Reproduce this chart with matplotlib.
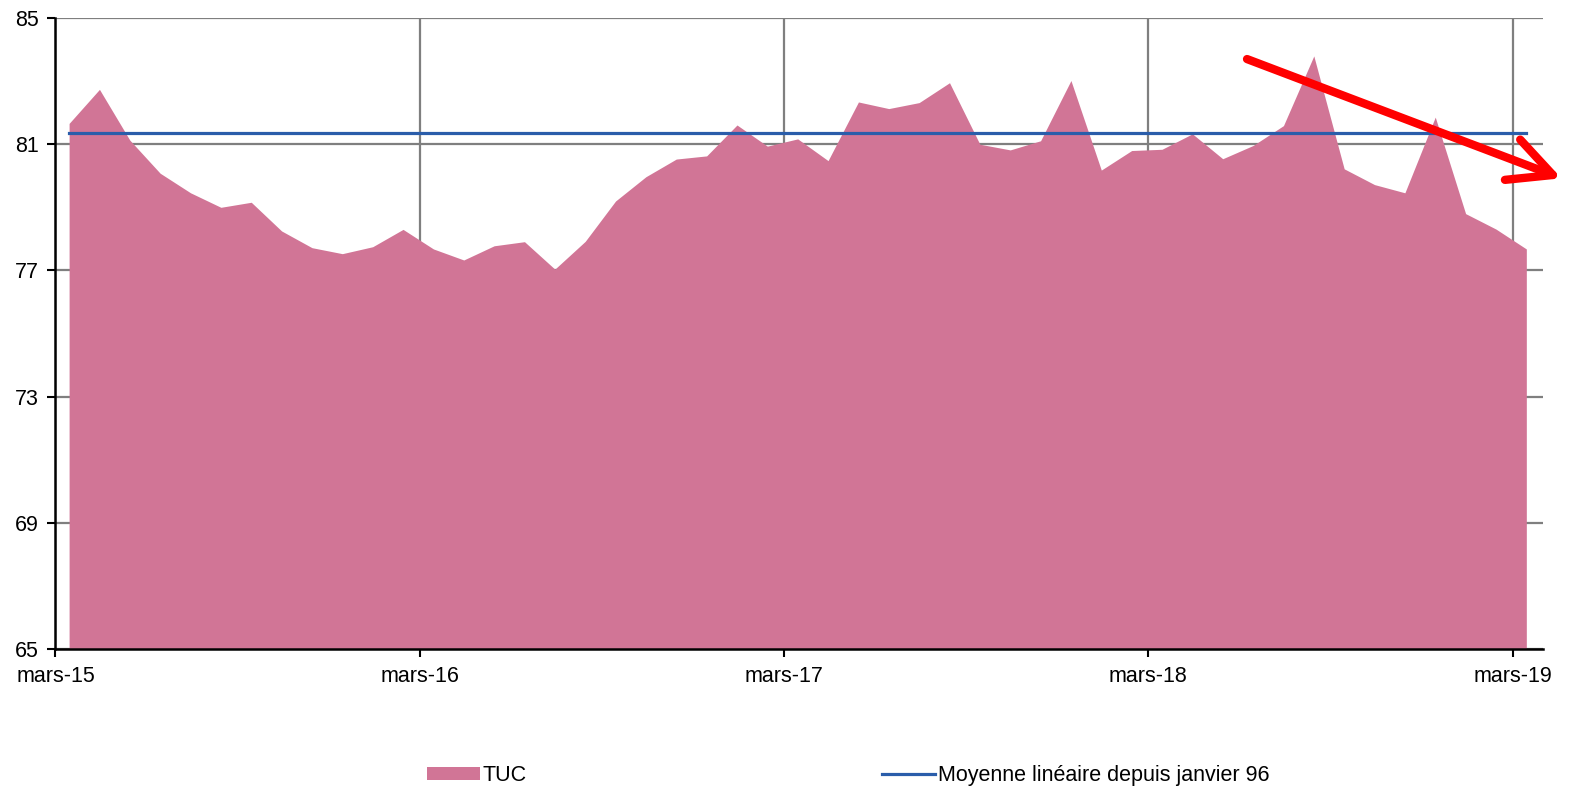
import matplotlib.pyplot as plt
from matplotlib.patches import FancyArrowPatch
import numpy as np

plt.rcParams['font.family'] = ['Liberation Sans', 'DejaVu Sans']

# TUC monthly values, from mars-15 to mars-19
tuc = [81.66, 82.74, 81.13, 80.08, 79.46, 79.00, 79.16, 78.25, 77.72, 77.53,
       77.75, 78.30, 77.68, 77.33, 77.78, 77.91, 77.04, 77.92, 79.20, 79.97,
       80.53, 80.63, 81.61, 80.94, 81.17, 80.48, 82.34, 82.13, 82.32, 82.95,
       81.00, 80.82, 81.11, 83.02, 80.18, 80.80, 80.84, 81.33, 80.54, 80.96,
       81.59, 83.80, 80.22, 79.72, 79.46, 81.86, 78.80, 78.31, 77.68]
moyenne = 81.35
tick_labels = ["mars-15", "mars-16", "mars-17", "mars-18", "mars-19"]
y_ticks = [65, 69, 73, 77, 81, 85]

x = np.arange(len(tuc)) + 0.45

fig = plt.figure(figsize=(15.75, 7.89), dpi=100)
ax = fig.add_axes([0.0352, 0.1776, 0.9445, 0.7995])

pink = "#D17596"
blue = "#2A5DAA"

ax.fill_between(x, 65, tuc, color=pink, linewidth=0, label="TUC", zorder=2)
ax.plot([x[0], x[-1]], [moyenne, moyenne], color=blue, linewidth=2.3,
        label="Moyenne linéaire depuis janvier 96", zorder=3)

ax.set_xlim(0, 49.0)
ax.set_ylim(65, 85)
ax.set_xticks([0, 12, 24, 36, 48])
ax.set_xticklabels(tick_labels)
ax.set_yticks(y_ticks)

ax.grid(True, color="#7F7F7F", linewidth=1.6, zorder=1)
ax.set_axisbelow(True)
for s in ["top", "right"]:
    ax.spines[s].set_visible(False)
for s in ["left", "bottom"]:
    ax.spines[s].set_linewidth(1.8)
    ax.spines[s].set_zorder(4)
ax.tick_params(axis="both", labelsize=15.5, width=1.5, length=6, direction="out")
ax.tick_params(axis="x", pad=6)
ax.tick_params(axis="y", pad=6)

# red trend arrow
arrow = FancyArrowPatch((39.25, 83.70), (49.61, 79.92),
                        arrowstyle="->,head_length=1.0,head_width=0.5",
                        mutation_scale=31, color="#FF0000", linewidth=6,
                        capstyle="round", joinstyle="round",
                        shrinkA=0, shrinkB=0,
                        clip_on=False, zorder=5)
ax.add_patch(arrow)

fig.legend(loc="center left", bbox_to_anchor=(427 / 1575, 0.0165), ncol=2,
           frameon=False, fontsize=15.5, handlelength=2.45, handleheight=0.55,
           handletextpad=0.15, columnspacing=16.5, borderpad=0, borderaxespad=0)

fig.savefig("out.png", dpi=100)
